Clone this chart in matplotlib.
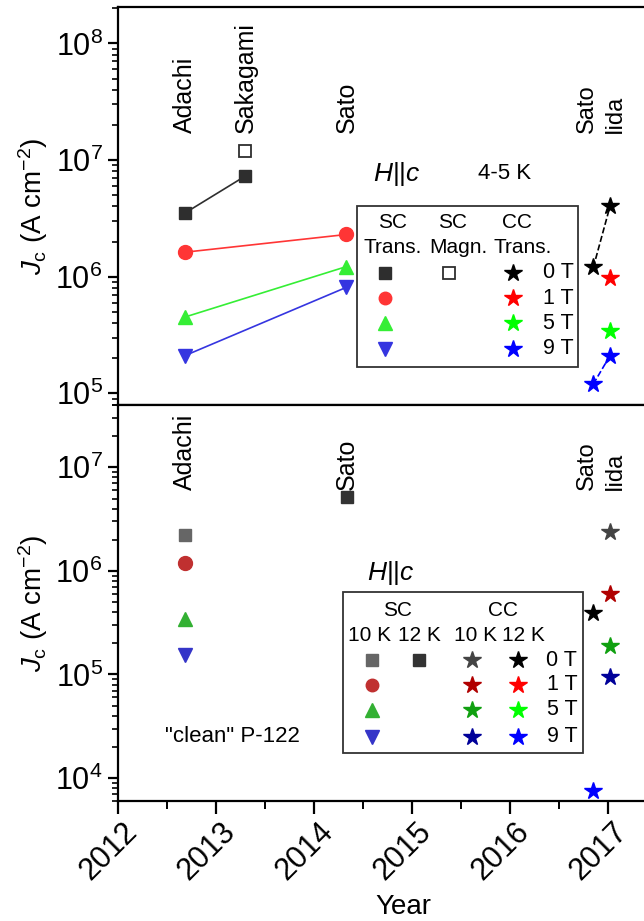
import matplotlib
matplotlib.use("Agg")
import matplotlib.pyplot as plt
from matplotlib.ticker import LogLocator, MultipleLocator, NullFormatter, FixedLocator
from matplotlib.transforms import ScaledTranslation
from matplotlib.patches import Rectangle

plt.rcParams["font.family"] = ["Liberation Sans", "DejaVu Sans"]
plt.rcParams["mathtext.fontset"] = "custom"
plt.rcParams["mathtext.rm"] = "Liberation Sans"
plt.rcParams["mathtext.it"] = "Liberation Sans:italic"
plt.rcParams["mathtext.bf"] = "Liberation Sans:bold"

# ---- data: upper panel (4-5 K) ----
ADACHI, SAKAGAMI, SATO, SATO16, IIDA = 2012.68, 2013.30, 2014.33, 2016.85, 2017.02

up_sc0_years = [ADACHI, SAKAGAMI]
up_sc0 = [3.5e6, 7.3e6]
up_magn_years = [SAKAGAMI]
up_magn0 = [1.2e7]
up_sc_years = [ADACHI, SATO]
up_sc1 = [1.62e6, 2.3e6]
up_sc5 = [4.5e5, 1.22e6]
up_sc9 = [2.1e5, 8.1e5]
up_cc_years = [SATO16, IIDA]
up_cc0 = [1.2e6, 4.0e6]
up_cc9 = [1.2e5, 2.1e5]
up_cc1_years = [IIDA]
up_cc1 = [9.7e5]
up_cc5 = [3.45e5]

# ---- data: lower panel (10 K / 12 K) ----
lo_sc10_years = [ADACHI]
lo_sc10 = [2.2e6, 1.2e6, 3.4e5, 1.55e5]  # 0, 1, 5, 9 T
lo_sc12_years = [SATO + 0.01]
lo_sc12_0 = [5.2e6]
lo_cc10_years = [IIDA]
lo_cc10 = [2.4e6, 6.0e5, 1.9e5, 9.5e4]  # 0, 1, 5, 9 T
lo_cc12_years = [SATO16]
lo_cc12_0 = [3.9e5]
lo_cc12_9 = [7.5e3]

years = [2012, 2013, 2014, 2015, 2016, 2017]
fields = ["0 T", "1 T", "5 T", "9 T"]

# colours
c_up = ["#2e2e2e", "#ff3535", "#35ee35", "#3535e0"]
c_cc12 = ["black", "#ff0000", "#00ff00", "#0000ff"]
c_lo_sc = ["#666666", "#c03030", "#33b033", "#3535c8"]
c_cc10 = ["#444444", "#b00000", "#10a010", "#000099"]
sc_markers = ["s", "o", "^", "v"]
ms = {"s": 9, "o": 10, "^": 10.5, "v": 10.5, "*": 13}

fig = plt.figure(figsize=(6.44, 9.21), dpi=100)
W, H = 644, 921
x0, xw = 118, 539
ax1 = fig.add_axes([x0 / W, (H - 405) / H, xw / W, (405 - 7.3) / H])
ax2 = fig.add_axes([x0 / W, (H - 801) / H, xw / W, 396 / H])

for ax in (ax1, ax2):
    ax.set_yscale("log")
    ax.set_xlim(2012, 2017.5)
    for s in ax.spines.values():
        s.set_linewidth(1.6)
    ax.yaxis.set_major_locator(LogLocator(base=10, numticks=12))
    ax.yaxis.set_minor_locator(LogLocator(base=10, subs=range(2, 10), numticks=12))
    ax.yaxis.set_minor_formatter(NullFormatter())
    ax.tick_params(axis="y", which="major", direction="out", length=7, width=1.6,
                   labelsize=22, pad=4)
    ax.tick_params(axis="y", which="minor", direction="out", length=4, width=1.2)
    ax.xaxis.set_major_locator(FixedLocator(years))
    ax.xaxis.set_minor_locator(MultipleLocator(0.5))
    ax.set_ylabel(r"$J_{\rm c}$ (A cm$^{-2}$)", fontsize=20, labelpad=4)

ax1.set_ylim(7.94e4, 2.04e8)
ax2.set_ylim(6.0e3, 4.0e7)
ax1.spines["right"].set_visible(False)
ax2.spines["right"].set_visible(False)
ax1.tick_params(axis="x", which="both", direction="out", length=5, width=1.4,
                labelbottom=False)
ax2.tick_params(axis="x", which="major", direction="out", length=9, width=1.6,
                labelsize=22, pad=0)
ax2.tick_params(axis="x", which="minor", direction="out", length=6, width=1.4)
ax2.set_xticklabels([str(y) for y in years])
off = ScaledTranslation(-0.09, -0.38, fig.dpi_scale_trans)
for lab in ax2.get_xticklabels():
    lab.set_rotation(45)
    lab.set_rotation_mode("anchor")
    lab.set_ha("center")
    lab.set_va("center")
    lab.set_transform(lab.get_transform() + off)
ax2.set_xlabel("Year", fontsize=20)
ax2.xaxis.set_label_coords(0.529, -0.235)

# ---- upper panel marks ----
ax1.plot(up_sc0_years, up_sc0, "-", color=c_up[0], lw=1.2, marker="s", ms=ms["s"])
ax1.plot(up_magn_years, up_magn0, "s", mfc="white", mec=c_up[0], mew=1.3, ms=8)
for vals, col, mk in zip([up_sc1, up_sc5, up_sc9], c_up[1:], sc_markers[1:]):
    ax1.plot(up_sc_years, vals, "-", color=col, lw=1.2, marker=mk, ms=ms[mk])
ax1.plot(up_cc_years, up_cc0, "--", color="black", lw=1.2, marker="*", ms=ms["*"])
ax1.plot(up_cc_years, up_cc9, "--", color=c_cc12[3], lw=1.2, marker="*", ms=ms["*"])
ax1.plot(up_cc1_years, up_cc1, "*", color=c_cc12[1], ms=ms["*"])
ax1.plot(up_cc1_years, up_cc5, "*", color=c_cc12[2], ms=ms["*"])

# ---- lower panel marks ----
for v, col, mk in zip(lo_sc10, c_lo_sc, sc_markers):
    ax2.plot(lo_sc10_years, [v], mk, color=col, ms=ms[mk] - (1 if mk == "s" else 0))
ax2.plot(lo_sc12_years, lo_sc12_0, "s", color="#333333", ms=8)
for v, col in zip(lo_cc10, c_cc10):
    ax2.plot(lo_cc10_years, [v], "*", color=col, ms=ms["*"])
ax2.plot(lo_cc12_years, lo_cc12_0, "*", color="black", ms=ms["*"])
ax2.plot(lo_cc12_years, lo_cc12_9, "*", color=c_cc12[3], ms=ms["*"])

# ---- author labels ----
lab_kw = dict(rotation=90, ha="center", va="bottom")
authors = [("Adachi", ADACHI, 18), ("Sakagami", SAKAGAMI, 18), ("Sato", SATO, 18),
           ("Sato", SATO16 - 0.07, 17), ("Iida", IIDA + 0.05, 17)]
for name, x, fs in authors:
    ax1.text(x, 1.7e7, name, fontsize=fs, **lab_kw)
for name, x, fs in [a for a in authors if a[0] != "Sakagami"]:
    ax2.text(x, 6.0e6, name, fontsize=fs, **lab_kw)

# ---- annotations ----
ax1.text(0.473, 0.581, r"$H$||$c$", transform=ax1.transAxes, fontsize=19, va="center")
ax1.text(0.668, 0.581, "4-5 K", transform=ax1.transAxes, fontsize=16, va="center")
ax2.text(0.462, 0.576, r"$H$||$c$", transform=ax2.transAxes, fontsize=19, va="center")
ax2.text(0.087, 0.164, '"clean" P-122', transform=ax2.transAxes, fontsize=16, va="center")

# ---- upper legend ----
tk = dict(transform=ax1.transAxes, ha="center", va="center", fontsize=15)
ax1.add_patch(Rectangle((0.443, 0.0955), 0.41, 0.4045, transform=ax1.transAxes,
                        fill=False, lw=1.3, ec="#333333", zorder=5))
for x, h1, x2, h2 in [(0.510, "SC", 0.510, "Trans."), (0.620, "SC", 0.632, "Magn."),
                      (0.740, "CC", 0.750, "Trans.")]:
    ax1.text(x, 0.458, h1, **tk)
    ax1.text(x2, 0.395, h2, **tk)
rows_up = [0.332, 0.269, 0.206, 0.141]
for i, fy in enumerate(rows_up):
    ax1.plot([0.495], [fy], sc_markers[i], color=c_up[i], ms=ms[sc_markers[i]] - 1,
             transform=ax1.transAxes, clip_on=False)
    ax1.plot([0.733], [fy], "*", color=c_cc12[i], ms=ms["*"],
             transform=ax1.transAxes, clip_on=False)
    ax1.text(0.845, fy, fields[i], transform=ax1.transAxes, ha="right", va="center",
             fontsize=15.5)
ax1.plot([0.614], [rows_up[0]], "s", mfc="white", mec=c_up[0], mew=1.3, ms=8,
         transform=ax1.transAxes, clip_on=False)

# ---- lower legend ----
tk2 = dict(transform=ax2.transAxes, ha="center", va="center", fontsize=15)
ax2.add_patch(Rectangle((0.4174, 0.121), 0.4453, 0.407, transform=ax2.transAxes,
                        fill=False, lw=1.3, ec="#333333", zorder=5))
ax2.text(0.519, 0.482, "SC", **tk2)
ax2.text(0.714, 0.482, "CC", **tk2)
for x, t in [(0.466, "10 K"), (0.559, "12 K"), (0.663, "10 K"), (0.752, "12 K")]:
    ax2.text(x, 0.419, t, **tk2)
rows_lo = [0.356, 0.293, 0.230, 0.162]
for i, fy in enumerate(rows_lo):
    ax2.plot([0.471], [fy], sc_markers[i], color=c_lo_sc[i], ms=ms[sc_markers[i]] - 1,
             transform=ax2.transAxes, clip_on=False)
    ax2.plot([0.657], [fy], "*", color=c_cc10[i], ms=ms["*"],
             transform=ax2.transAxes, clip_on=False)
    ax2.plot([0.742], [fy], "*", color=c_cc12[i], ms=ms["*"],
             transform=ax2.transAxes, clip_on=False)
    ax2.text(0.852, fy, fields[i], transform=ax2.transAxes, ha="right", va="center",
             fontsize=15.5)
ax2.plot([0.558], [rows_lo[0]], "s", color="#333333", ms=8,
         transform=ax2.transAxes, clip_on=False)

fig.savefig("out.png", dpi=100)
